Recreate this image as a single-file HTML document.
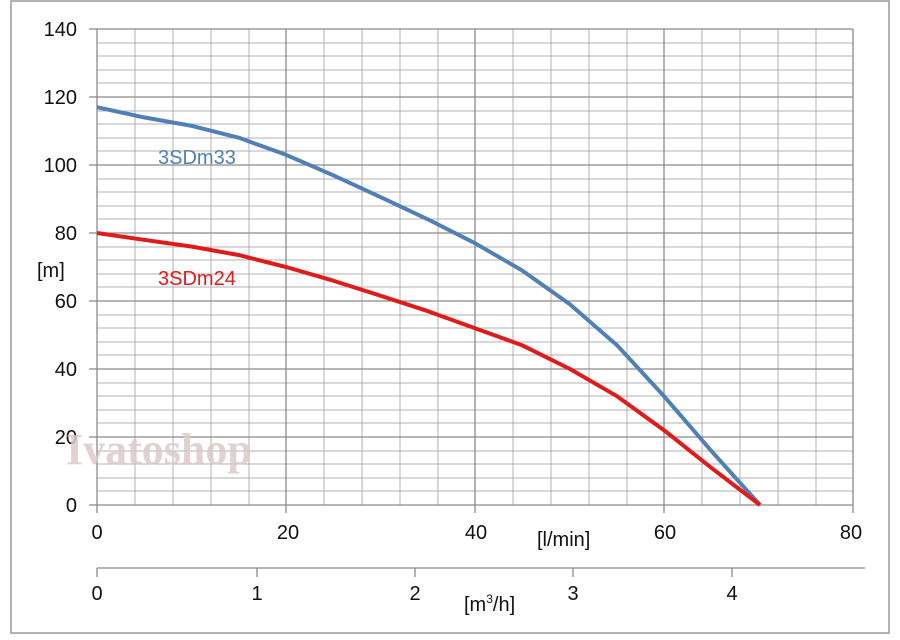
<!DOCTYPE html>
<html><head><style>body{margin:0;background:#fff}svg{display:block}</style></head><body>
<svg width="900" height="640" xmlns="http://www.w3.org/2000/svg" font-family="Liberation Sans, sans-serif">
<rect x="0" y="0" width="900" height="640" fill="#fff"/>
<rect x="11" y="1" width="878" height="632" fill="none" stroke="#9a9a9a" stroke-width="1.5"/>
<g stroke="#b0b0b0" stroke-width="1">
<path d="M97 29H853M97 43H853M97 56H853M97 70H853M97 83H853M97 97H853M97 111H853M97 124H853M97 138H853M97 151H853M97 165H853M97 179H853M97 192H853M97 206H853M97 219H853M97 233H853M97 247H853M97 260H853M97 274H853M97 287H853M97 301H853M97 315H853M97 328H853M97 342H853M97 355H853M97 369H853M97 383H853M97 396H853M97 410H853M97 423H853M97 437H853M97 451H853M97 464H853M97 478H853M97 491H853"/>
<path d="M135 29V505M173 29V505M211 29V505M249 29V505M324 29V505M362 29V505M400 29V505M438 29V505M513 29V505M551 29V505M589 29V505M627 29V505M702 29V505M740 29V505M778 29V505M816 29V505"/>
</g>
<g stroke="#8a8a8a" stroke-width="1.3">
<path d="M97 29H853M97 97H853M97 165H853M97 233H853M97 301H853M97 369H853M97 437H853M97 505H853"/>
<path d="M97 29V505M286 29V505M475 29V505M664 29V505M853 29V505"/>
<path d="M89 29H97M89 97H97M89 165H97M89 233H97M89 301H97M89 369H97M89 437H97M89 505H97"/>
<path d="M97 505V513M286 505V513M475 505V513M664 505V513M853 505V513"/>
<path d="M97 568H865M97 568V577M257 568V577M415 568V577M573 568V577M732 568V577"/>
</g>
<g font-size="20" fill="#111" text-anchor="end">
<text x="77" y="36">140</text><text x="77" y="104">120</text><text x="77" y="172">100</text>
<text x="77" y="240">80</text><text x="77" y="308">60</text><text x="77" y="376">40</text>
<text x="77" y="444">20</text><text x="77" y="512">0</text>
</g>
<g font-size="20" fill="#111" text-anchor="middle">
<text x="97" y="539">0</text><text x="288" y="539">20</text><text x="476" y="539">40</text><text x="665" y="539">60</text><text x="851" y="539">80</text>
<text x="97" y="600">0</text><text x="257" y="600">1</text><text x="415" y="600">2</text><text x="573" y="600">3</text><text x="732" y="600">4</text>
</g>
<text x="37" y="277" font-size="20" fill="#111">[m]</text>
<text x="537" y="546" font-size="20" fill="#111">[l/min]</text>
<text x="464" y="611" font-size="20" fill="#111">[m<tspan font-size="12" dy="-8">3</tspan><tspan dy="8">/h]</tspan></text>
<text x="66" y="464" font-size="44" font-weight="bold" font-family="Liberation Serif, serif" fill="#dccaca" opacity="0.85">Ivatoshop</text>
<polyline fill="none" stroke="#5080b8" stroke-width="4" stroke-linejoin="round" points="97,107.2 144,117.4 192,125.9 239,137.8 286,154.8 333,175.2 381,197.3 428,219.4 475,243.2 522,270.4 570,304.4 617,345.2 664,396.2 711,450.6 760,505"/>
<polyline fill="none" stroke="#e21a1a" stroke-width="4" stroke-linejoin="round" points="97,233 144,239.8 192,246.6 239,255.1 286,267 333,280.6 381,295.9 428,311.2 475,328.2 522,345.2 570,369 617,396.2 664,430.2 711,467.6 760,505"/>
<text x="158" y="164" font-size="20" fill="#4f7fb5">3SDm33</text>
<text x="158" y="285" font-size="20" fill="#e21a1a">3SDm24</text>
</svg>
</body></html>
